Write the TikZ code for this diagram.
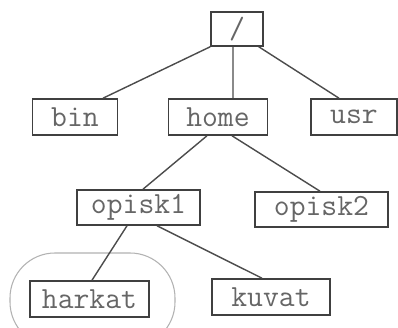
\documentclass[tikz,border=0pt]{standalone}
\usepackage{fontspec}
\begin{document}
\begin{tikzpicture}[
  dirbox/.style={draw=black!75, line width=0.9pt, text=black!60, inner sep=0pt,
    font=\ttfamily\fontsize{17.5}{17.5}\selectfont},
  link/.style={draw=black!70, line width=0.8pt},
  group/.style={draw=black!30, line width=0.6pt, rounded corners=0.9cm}
]
\clip (0,0) rectangle (7.96,6.56);
\fill[white] (0,0) rectangle (7.96,6.56);

% directory tree
\node[dirbox, minimum width=1.04cm, minimum height=0.68cm] (root)   at (4.74,5.98) {/};
\node[dirbox, minimum width=1.70cm, minimum height=0.72cm] (bin)    at (1.50,4.22) {bin};
\node[dirbox, minimum width=1.98cm, minimum height=0.72cm] (home)   at (4.36,4.22) {home};
\node[dirbox, minimum width=1.72cm, minimum height=0.72cm] (usr)    at (7.08,4.22) {usr};
\node[dirbox, minimum width=2.46cm, minimum height=0.70cm] (opisk1) at (2.77,2.41) {opisk1};
\node[dirbox, minimum width=2.66cm, minimum height=0.70cm] (opisk2) at (6.43,2.37) {opisk2};
\node[dirbox, minimum width=2.38cm, minimum height=0.72cm] (harkat) at (1.79,0.58) {harkat};
\node[dirbox, minimum width=2.36cm, minimum height=0.72cm] (kuvat)  at (5.42,0.62) {kuvat};

% highlighted subtree
\draw[group] (0.20,-0.38) rectangle (3.50,1.50);

% links between directories
\draw[link] (root.south west) -- ([xshift=0.56cm]bin.north);
\draw[link] ([xshift=-0.08cm]root.south) -- ([xshift=0.30cm]home.north);
\draw[link] ([xshift=-0.10cm]root.south east) -- ([xshift=-0.30cm]usr.north);
\draw[link] ([xshift=-0.22cm]home.south) -- ([xshift=0.09cm]opisk1.north);
\draw[link] ([xshift=0.28cm]home.south) -- ([xshift=-0.03cm]opisk2.north);
\draw[link] ([xshift=-0.23cm]opisk1.south) -- ([xshift=0.05cm]harkat.north);
\draw[link] ([xshift=0.37cm]opisk1.south) -- ([xshift=-0.18cm]kuvat.north);
\end{tikzpicture}
\end{document}
